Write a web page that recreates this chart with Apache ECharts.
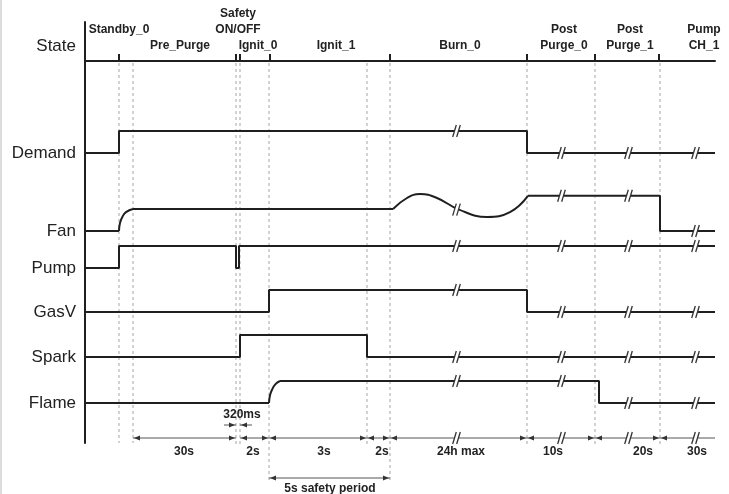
<!DOCTYPE html>
<html>
<head>
<meta charset="utf-8">
<script src="https://cdn.jsdelivr.net/npm/echarts@6/dist/echarts.min.js"></script>
<style>
  html, body { margin: 0; padding: 0; background: #fff; }
  #main { width: 729px; height: 494px; }
</style>
</head>
<body>
<div id="main"></div>
<script>
// x = schematic position along the sequence, y = rows counted down from the State line
var xMax = 630, yMax = 382;

var signalNames = ['Demand', 'Fan', 'Pump', 'GasV', 'Spark', 'Flame'];
var signalBase = [92, 170, 207, 251, 296, 342];
var levelHeight = 22;

// [x, level] pairs, level 0 = off, 1 = on
var demandPts = [[0, 0], [34, 0], [34, 1], [442, 1], [442, 0], [630, 0]];
var fanFlat = [[0, 0], [34, 0]];
var fanRise = [[34, 0], [35, 0.36], [37.5, 0.65], [41, 0.86], [48, 1]];
var fanHold = [[48, 1], [308, 1]];
var fanWave = [[308, 1], [322, 1.5], [335, 1.68], [352, 1.5], [374, 0.97], [402, 0.64], [425, 0.86], [443, 1.6]];
var fanEnd = [[443, 1.6], [575, 1.6], [575, 0], [630, 0]];
var pumpPts = [[0, 0], [34, 0], [34, 1], [151, 1], [151, 0], [154, 0], [154, 1], [630, 1]];
var gasVPts = [[0, 0], [184, 0], [184, 1], [442, 1], [442, 0], [630, 0]];
var sparkPts = [[0, 0], [155, 0], [155, 1], [282, 1], [282, 0], [630, 0]];
var flameFlat = [[0, 0], [184, 0]];
var flameRise = [[184, 0], [185, 0.35], [187, 0.6], [190.5, 0.86], [195, 1]];
var flameEnd = [[195, 1], [514, 1], [514, 0], [630, 0]];

// "//" time breaks
var breakX = [373, 478, 545, 612];
var breakLevels = [
  [1, 0, 0, 0],      // Demand
  [0.97, 1.6, 1.6, 0], // Fan
  [1, 1, 1, 1],      // Pump
  [1, 0, 0, 0],      // GasV
  [0, 0, 0, 0],      // Spark
  [1, 1, 0, 0]       // Flame
];

// state boundaries
var stateTicks = [34, 151, 155, 185, 305, 442, 510, 574];
var dashX = [34, 48, 151, 155, 184, 282, 305, 442, 510, 575];
var dashEnd = [382, 382, 384, 384, 419, 384, 419, 384, 384, 384];

var stateNames = ['Standby_0', 'Pre_Purge', 'Safety\nON/OFF', 'Ignit_0', 'Ignit_1', 'Burn_0', 'Post\nPurge_0', 'Post\nPurge_1', 'Pump\nCH_1'];
var stateLabelX = [34, 95, 153, 173, 251, 375, 479, 545, 619];
var stateLabelRow = [1, 0, 1, 0, 0, 0, 0, 0, 0];

// durations along the bottom
var dimSpans = [[48, 151], [155, 184], [184, 282], [282, 305], [305, 442], [442, 510], [510, 575], [575, 630]];
var dimLabels = ['30s', '2s', '3s', '2s', '24h max', '10s', '20s', '30s'];
var dimLabelX = [99, 168, 239, 297, 376, 468, 558, 612];
var dimY = 377, dimLabelY = 391;

var gapStubs = [[139, 151], [167, 155]];
var gapLabel = '320ms', gapLabelX = 157, gapStubY = 364, gapLabelY = 354;

var safetySpan = [184, 305], safetyY = 417;
var safetyLabel = '5s safety period', safetyLabelX = 245, safetyLabelY = 428;

var ink = '#1f1f1f';
var boldFont = 'bold 12px "Liberation Sans", Arial, sans-serif';

function toRow(row, pts) {
  return pts.map(function (p) { return [p[0], signalBase[row] - p[1] * levelHeight]; });
}

var traces = [
  { row: 0, pts: demandPts },
  { row: 1, pts: fanFlat }, { row: 1, pts: fanRise, smooth: 0.5 }, { row: 1, pts: fanHold },
  { row: 1, pts: fanWave, smooth: 0.45 }, { row: 1, pts: fanEnd },
  { row: 2, pts: pumpPts },
  { row: 3, pts: gasVPts },
  { row: 4, pts: sparkPts },
  { row: 5, pts: flameFlat }, { row: 5, pts: flameRise, smooth: 0.5 }, { row: 5, pts: flameEnd }
];

var chart = echarts.init(document.getElementById('main'));

var series = [];

// dashed boundaries (drawn first, under the signals)
series.push({
  type: 'custom', xAxisIndex: 1, yAxisIndex: 1, clip: false, silent: true, z: 1,
  data: dashX.map(function (x, i) { return [x, dashEnd[i]]; }),
  renderItem: function (params, api) {
    var p0 = api.coord([api.value(0), 0]);
    var p1 = api.coord([api.value(0), api.value(1)]);
    return { type: 'line', shape: { x1: p0[0], y1: p0[1] + 2, x2: p1[0], y2: p1[1] },
      style: { stroke: '#a5a5a5', lineWidth: 1, lineDash: [3, 3] } };
  }
});

traces.forEach(function (t) {
  series.push({
    type: 'line', xAxisIndex: 1, yAxisIndex: 1, z: 3,
    data: toRow(t.row, t.pts),
    smooth: t.smooth || false,
    symbol: 'none', showSymbol: false, silent: true,
    lineStyle: { color: ink, width: 2 }
  });
});

var breakData = [];
breakLevels.forEach(function (lv, row) {
  breakX.forEach(function (x, k) { breakData.push([x, signalBase[row] - lv[k] * levelHeight]); });
});
breakX.forEach(function (x) { breakData.push([x, dimY]); });

series.push({
  type: 'custom', xAxisIndex: 1, yAxisIndex: 1, clip: false, silent: true, z: 5,
  data: breakData,
  renderItem: function (params, api) {
    var p = api.coord([api.value(0), api.value(1)]);
    var h = 6, s = 1.8;
    var a = [p[0] - 3.5 - s, p[1] + h], b = [p[0] - 3.5 + s, p[1] - h];
    var c = [p[0] + 0.5 + s, p[1] - h], d = [p[0] + 0.5 - s, p[1] + h];
    return { type: 'group', children: [
      { type: 'polygon', shape: { points: [a, b, c, d] }, style: { fill: '#fff' } },
      { type: 'line', shape: { x1: a[0], y1: a[1], x2: b[0], y2: b[1] }, style: { stroke: '#333', lineWidth: 1.3 } },
      { type: 'line', shape: { x1: d[0], y1: d[1], x2: c[0], y2: c[1] }, style: { stroke: '#333', lineWidth: 1.3 } }
    ] };
  }
});

function arrowHead(tipX, y, dir) {
  return { type: 'polygon', shape: { points: [[tipX, y], [tipX - dir * 6, y - 2.5], [tipX - dir * 6, y + 2.5]] },
    style: { fill: '#333' } };
}

// duration line with arrows and labels
series.push({
  type: 'custom', xAxisIndex: 1, yAxisIndex: 1, clip: false, silent: true, z: 4,
  data: dimSpans.map(function (s, i) { return [s[0], s[1], dimLabelX[i]]; }),
  renderItem: function (params, api) {
    var p0 = api.coord([api.value(0), dimY]);
    var p1 = api.coord([api.value(1), dimY]);
    var pl = api.coord([api.value(2), dimLabelY]);
    var kids = [
      { type: 'line', shape: { x1: p0[0], y1: p0[1], x2: p1[0], y2: p1[1] }, style: { stroke: '#555', lineWidth: 1 } },
      arrowHead(p0[0] + 1, p0[1], -1),
      { type: 'text', x: pl[0], y: pl[1], style: { text: dimLabels[params.dataIndex], fill: '#222', font: boldFont, align: 'center', verticalAlign: 'middle' } }
    ];
    if (api.value(1) < xMax) kids.push(arrowHead(p1[0] - 1, p1[1], 1));
    return { type: 'group', children: kids };
  }
});

// 320 ms gap arrows
series.push({
  type: 'custom', xAxisIndex: 1, yAxisIndex: 1, clip: false, silent: true, z: 4,
  data: gapStubs,
  renderItem: function (params, api) {
    var p0 = api.coord([api.value(0), gapStubY]);
    var p1 = api.coord([api.value(1), gapStubY]);
    var dir = p1[0] > p0[0] ? 1 : -1;
    var kids = [
      { type: 'line', shape: { x1: p0[0], y1: p0[1], x2: p1[0], y2: p1[1] }, style: { stroke: '#555', lineWidth: 1 } },
      arrowHead(p1[0] - dir, p1[1], dir)
    ];
    if (params.dataIndex === 0) {
      var pl = api.coord([gapLabelX, gapLabelY]);
      kids.push({ type: 'text', x: pl[0], y: pl[1], style: { text: gapLabel, fill: '#222', font: boldFont, align: 'center', verticalAlign: 'middle' } });
    }
    return { type: 'group', children: kids };
  }
});

// safety period
series.push({
  type: 'custom', xAxisIndex: 1, yAxisIndex: 1, clip: false, silent: true, z: 4,
  data: [[safetySpan[0], safetySpan[1]]],
  renderItem: function (params, api) {
    var p0 = api.coord([api.value(0), safetyY]);
    var p1 = api.coord([api.value(1), safetyY]);
    var pl = api.coord([safetyLabelX, safetyLabelY]);
    return { type: 'group', children: [
      { type: 'line', shape: { x1: p0[0], y1: p0[1], x2: p1[0], y2: p1[1] }, style: { stroke: '#555', lineWidth: 1 } },
      arrowHead(p0[0] + 1, p0[1], -1),
      arrowHead(p1[0] - 1, p1[1], 1),
      { type: 'text', x: pl[0], y: pl[1], style: { text: safetyLabel, fill: '#222', font: boldFont, align: 'center', verticalAlign: 'middle' } }
    ] };
  }
});

// state names above the State line
series.push({
  type: 'custom', xAxisIndex: 1, yAxisIndex: 1, clip: false, silent: true, z: 4,
  data: stateLabelX.map(function (x, i) { return [x, stateLabelRow[i]]; }),
  renderItem: function (params, api) {
    var bottom = api.value(1) === 1 ? -23 : -7;
    var p = api.coord([api.value(0), bottom]);
    return { type: 'text', x: p[0], y: p[1], style: { text: stateNames[params.dataIndex], fill: '#222', font: boldFont,
      lineHeight: 16, align: 'center', verticalAlign: 'bottom' } };
  }
});

var option = {
  animation: false,
  backgroundColor: '#fff',
  graphic: [
    { type: 'rect', left: 0, top: 0, shape: { width: 2, height: 494 }, style: { fill: '#dcdcdc' }, silent: true }
  ],
  grid: [
    { left: 85, right: 14, top: 22, height: 39 },
    { left: 85, right: 14, top: 61, height: 382 }
  ],
  xAxis: [
    { gridIndex: 0, type: 'value', min: 0, max: xMax, show: false },
    {
      gridIndex: 1, type: 'value', min: 0, max: xMax, position: 'top',
      axisLine: { show: true, onZero: false, lineStyle: { color: ink, width: 2 } },
      axisTick: { show: true, inside: false, length: 7, customValues: stateTicks, lineStyle: { color: ink, width: 2 } },
      axisLabel: { show: false },
      splitLine: { show: false }
    }
  ],
  yAxis: [
    {
      gridIndex: 0, type: 'value', min: 0, max: 39, inverse: true,
      axisLine: { show: true, lineStyle: { color: ink, width: 2 } },
      axisTick: { show: false },
      splitLine: { show: false },
      axisLabel: { show: true, customValues: [24], formatter: function () { return 'State'; },
        fontSize: 17, color: '#222', fontFamily: '"Liberation Sans", Arial, sans-serif', margin: 9 }
    },
    {
      gridIndex: 1, type: 'value', min: 0, max: yMax, inverse: true,
      axisLine: { show: true, lineStyle: { color: ink, width: 2 } },
      axisTick: { show: false },
      splitLine: { show: false },
      axisLabel: {
        show: true, customValues: signalBase,
        formatter: function (v) { return signalNames[signalBase.indexOf(v)]; },
        fontSize: 17, color: '#222', fontFamily: '"Liberation Sans", Arial, sans-serif', margin: 9
      }
    }
  ],
  series: series
};

chart.setOption(option);
</script>
</body>
</html>
